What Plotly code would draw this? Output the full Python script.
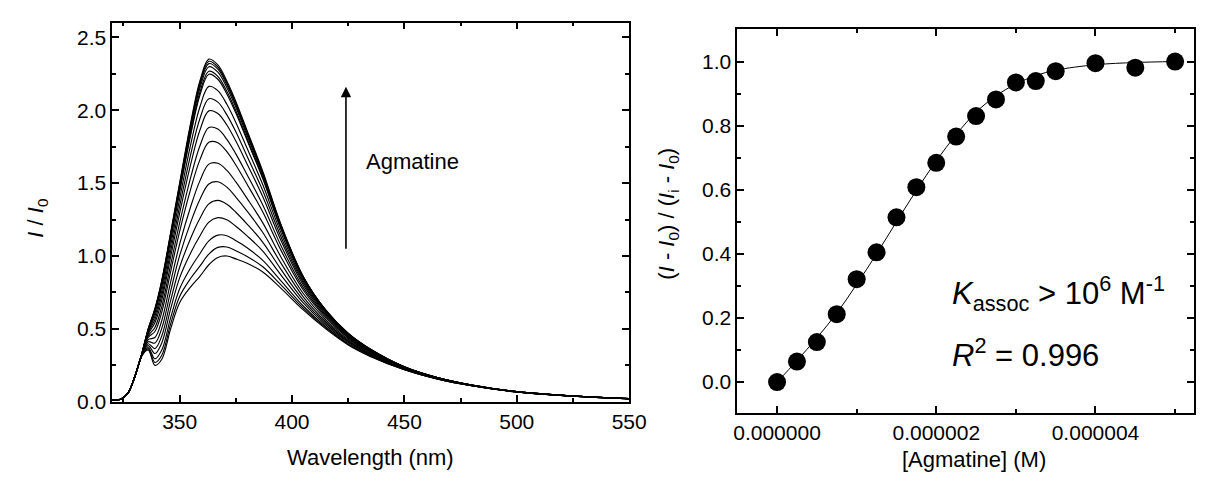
import plotly.graph_objects as go

FONT = "Liberation Sans, Arial, sans-serif"

# ---------------- Left panel: emission spectra ----------------
wavelength = [320, 324, 327, 330, 333, 336, 339, 342, 346, 350, 355, 359, 363, 367,
              371, 375, 380, 387, 395, 405, 415, 425, 435, 450, 465, 480, 500, 525, 550]

spec_01 = [0.010, 0.020, 0.060, 0.170, 0.310, 0.355, 0.250, 0.290, 0.500, 0.680, 0.790, 0.860, 0.940, 0.990,
           1.000, 0.980, 0.950, 0.890, 0.780, 0.630, 0.500, 0.390, 0.310, 0.220, 0.155, 0.110, 0.067, 0.038, 0.021]
spec_02 = [0.010, 0.020, 0.060, 0.170, 0.311, 0.363, 0.270, 0.318, 0.534, 0.723, 0.849, 0.930, 1.013, 1.059,
           1.062, 1.036, 0.997, 0.926, 0.803, 0.642, 0.507, 0.394, 0.313, 0.221, 0.156, 0.110, 0.067, 0.038, 0.021]
spec_03 = [0.010, 0.020, 0.060, 0.170, 0.311, 0.372, 0.295, 0.353, 0.577, 0.775, 0.921, 1.015, 1.104, 1.143,
           1.139, 1.105, 1.056, 0.970, 0.831, 0.657, 0.515, 0.399, 0.316, 0.222, 0.156, 0.111, 0.067, 0.038, 0.021]
spec_04 = [0.010, 0.020, 0.060, 0.170, 0.312, 0.385, 0.331, 0.402, 0.637, 0.850, 1.024, 1.137, 1.232, 1.263,
           1.248, 1.204, 1.138, 1.033, 0.871, 0.678, 0.527, 0.407, 0.320, 0.224, 0.157, 0.111, 0.068, 0.038, 0.021]
spec_05 = [0.010, 0.020, 0.060, 0.170, 0.313, 0.398, 0.365, 0.450, 0.695, 0.923, 1.125, 1.257, 1.357, 1.381,
           1.355, 1.300, 1.219, 1.094, 0.910, 0.698, 0.539, 0.414, 0.325, 0.226, 0.158, 0.111, 0.068, 0.039, 0.021]
spec_06 = [0.010, 0.020, 0.060, 0.170, 0.314, 0.412, 0.403, 0.502, 0.759, 1.002, 1.234, 1.387, 1.494, 1.509,
           1.472, 1.404, 1.308, 1.161, 0.953, 0.720, 0.551, 0.421, 0.330, 0.228, 0.159, 0.112, 0.068, 0.039, 0.021]
spec_07 = [0.010, 0.020, 0.060, 0.170, 0.315, 0.426, 0.441, 0.554, 0.823, 1.081, 1.343, 1.515, 1.630, 1.636,
           1.587, 1.508, 1.395, 1.227, 0.995, 0.743, 0.564, 0.429, 0.335, 0.230, 0.160, 0.112, 0.068, 0.039, 0.021]
spec_08 = [0.010, 0.020, 0.060, 0.170, 0.316, 0.441, 0.482, 0.612, 0.893, 1.169, 1.464, 1.659, 1.780, 1.777,
           1.715, 1.624, 1.492, 1.301, 1.042, 0.767, 0.578, 0.438, 0.340, 0.232, 0.161, 0.113, 0.069, 0.039, 0.022]
spec_09 = [0.010, 0.020, 0.060, 0.170, 0.317, 0.452, 0.510, 0.650, 0.940, 1.227, 1.544, 1.754, 1.881, 1.870,
           1.800, 1.700, 1.557, 1.350, 1.074, 0.783, 0.587, 0.443, 0.343, 0.233, 0.162, 0.113, 0.069, 0.039, 0.022]
spec_10 = [0.010, 0.020, 0.060, 0.170, 0.317, 0.464, 0.542, 0.694, 0.994, 1.293, 1.635, 1.862, 1.995, 1.977,
           1.898, 1.788, 1.631, 1.406, 1.109, 0.802, 0.597, 0.450, 0.347, 0.235, 0.162, 0.114, 0.069, 0.040, 0.022]
spec_11 = [0.010, 0.020, 0.060, 0.170, 0.318, 0.472, 0.565, 0.726, 1.033, 1.342, 1.702, 1.941, 2.078, 2.055,
           1.968, 1.852, 1.684, 1.447, 1.135, 0.816, 0.605, 0.455, 0.350, 0.236, 0.163, 0.114, 0.069, 0.040, 0.022]
spec_12 = [0.010, 0.020, 0.060, 0.170, 0.319, 0.481, 0.588, 0.758, 1.072, 1.391, 1.770, 2.022, 2.163, 2.134,
           2.040, 1.916, 1.739, 1.488, 1.162, 0.829, 0.613, 0.459, 0.353, 0.237, 0.164, 0.114, 0.070, 0.040, 0.022]
spec_13 = [0.010, 0.020, 0.060, 0.170, 0.319, 0.489, 0.611, 0.790, 1.111, 1.439, 1.836, 2.101, 2.246, 2.212,
           2.111, 1.980, 1.793, 1.529, 1.187, 0.843, 0.620, 0.464, 0.356, 0.239, 0.164, 0.115, 0.070, 0.040, 0.022]
spec_14 = [0.010, 0.020, 0.060, 0.170, 0.319, 0.491, 0.617, 0.798, 1.121, 1.452, 1.853, 2.121, 2.267, 2.232,
           2.129, 1.996, 1.806, 1.539, 1.194, 0.846, 0.622, 0.465, 0.357, 0.239, 0.164, 0.115, 0.070, 0.040, 0.022]
spec_15 = [0.010, 0.020, 0.060, 0.170, 0.320, 0.495, 0.626, 0.810, 1.136, 1.470, 1.878, 2.150, 2.298, 2.261,
           2.156, 2.020, 1.826, 1.555, 1.204, 0.852, 0.625, 0.467, 0.358, 0.239, 0.165, 0.115, 0.070, 0.040, 0.022]
spec_16 = [0.010, 0.020, 0.060, 0.170, 0.320, 0.498, 0.636, 0.824, 1.153, 1.491, 1.908, 2.185, 2.335, 2.296,
           2.187, 2.048, 1.850, 1.572, 1.215, 0.858, 0.629, 0.469, 0.360, 0.240, 0.165, 0.115, 0.070, 0.040, 0.022]
spec_17 = [0.010, 0.020, 0.060, 0.170, 0.320, 0.497, 0.631, 0.818, 1.146, 1.482, 1.895, 2.171, 2.319, 2.281,
           2.174, 2.036, 1.840, 1.565, 1.210, 0.855, 0.627, 0.468, 0.359, 0.240, 0.165, 0.115, 0.070, 0.040, 0.022]
spec_18 = [0.010, 0.020, 0.060, 0.170, 0.320, 0.500, 0.640, 0.830, 1.160, 1.500, 1.920, 2.200, 2.350, 2.310,
           2.200, 2.060, 1.860, 1.580, 1.220, 0.860, 0.630, 0.470, 0.360, 0.240, 0.165, 0.115, 0.070, 0.040, 0.022]

spectra = [spec_01, spec_02, spec_03, spec_04, spec_05, spec_06, spec_07, spec_08, spec_09,
           spec_10, spec_11, spec_12, spec_13, spec_14, spec_15, spec_16, spec_17, spec_18]

# ---------------- Right panel: binding isotherm ----------------
agmatine_conc = [0.0, 0.25e-6, 0.5e-6, 0.75e-6, 1.0e-6, 1.25e-6, 1.5e-6, 1.75e-6, 2.0e-6,
                 2.25e-6, 2.5e-6, 2.75e-6, 3.0e-6, 3.25e-6, 3.5e-6, 4.0e-6, 4.5e-6, 5.0e-6]
frac_change = [0.000, 0.064, 0.125, 0.212, 0.321, 0.405, 0.514, 0.608, 0.684,
               0.766, 0.830, 0.882, 0.935, 0.939, 0.970, 0.995, 0.981, 1.000]

fit_conc = [0.0, 0.25e-6, 0.5e-6, 0.75e-6, 1.0e-6, 1.25e-6, 1.5e-6, 1.75e-6, 2.0e-6,
            2.25e-6, 2.5e-6, 2.75e-6, 3.0e-6, 3.25e-6, 3.5e-6, 4.0e-6, 4.5e-6, 5.0e-6]
fit_frac = [0.000, 0.067, 0.138, 0.215, 0.305, 0.400, 0.500, 0.598, 0.690,
            0.772, 0.842, 0.893, 0.930, 0.956, 0.973, 0.990, 0.997, 1.000]

fig = go.Figure()

for s in spectra:
    fig.add_trace(go.Scatter(
        x=wavelength, y=s, mode="lines", xaxis="x", yaxis="y",
        line=dict(color="black", width=1.15, shape="spline", smoothing=1.0),
        showlegend=False, hoverinfo="skip"))

fig.add_trace(go.Scatter(
    x=fit_conc, y=fit_frac, mode="lines", xaxis="x2", yaxis="y2",
    line=dict(color="black", width=1, shape="spline"),
    showlegend=False, hoverinfo="skip"))

fig.add_trace(go.Scatter(
    x=agmatine_conc, y=frac_change, mode="markers", xaxis="x2", yaxis="y2",
    marker=dict(color="black", size=18, line=dict(width=0)),
    showlegend=False))

W, H = 1216, 483


def common(minor_dtick):
    return dict(
        showline=True, linecolor="black", linewidth=1.5, mirror="allticks",
        ticks="inside", ticklen=7, tickwidth=1.5, tickcolor="black",
        showgrid=False, zeroline=False,
        tickfont=dict(family=FONT, size=21, color="black"),
        minor=dict(ticks="inside", ticklen=4, tickwidth=1.5, tickcolor="black",
                   dtick=minor_dtick, showgrid=False),
    )


fig.update_layout(
    width=W, height=H,
    margin=dict(l=0, r=0, t=0, b=0),
    paper_bgcolor="white", plot_bgcolor="white",
    showlegend=False,
    xaxis=dict(domain=[103 / W, 629 / W], range=[320, 550], tick0=350, dtick=50,
               anchor="y", **common(25)),
    yaxis=dict(domain=[80 / H, 468 / H], range=[0, 2.6], tick0=0, dtick=0.5,
               tickformat=".1f", anchor="x", **common(0.25)),
    xaxis2=dict(domain=[739 / W, 1204 / W], range=[-0.5e-6, 5.24e-6], tick0=0, dtick=2e-6,
                tickformat=".6f", anchor="y2", **common(1e-6)),
    yaxis2=dict(domain=[69 / H, 461 / H], range=[-0.095, 1.1], tick0=0, dtick=0.2,
                tickformat=".1f", anchor="x2", **common(0.1)),
)

title_font = dict(family=FONT, size=22, color="black")
annotations = [
    dict(text="Wavelength (nm)", xref="paper", yref="paper", x=366 / W, y=(H - 460) / H,
         xanchor="center", yanchor="middle", showarrow=False, font=title_font),
    dict(text="<i>I</i> / <i>I</i><sub>0</sub>", xref="paper", yref="paper",
         x=27 / W, y=(H - 215) / H, textangle=-90,
         xanchor="center", yanchor="middle", showarrow=False, font=title_font),
    dict(text="[Agmatine] (M)", xref="paper", yref="paper", x=980 / W, y=(H - 462) / H,
         xanchor="center", yanchor="middle", showarrow=False, font=title_font),
    dict(text="(<i>I</i> - <i>I</i><sub>0</sub>) / (<i>I</i><sub>i</sub> - <i>I</i><sub>0</sub>)",
         xref="paper", yref="paper", x=669 / W, y=(H - 210) / H, textangle=-90,
         xanchor="center", yanchor="middle", showarrow=False, font=title_font),
    dict(text="Agmatine", xref="paper", yref="paper", x=359 / W, y=(H - 157) / H,
         xanchor="left", yanchor="middle", showarrow=False, font=title_font),
    dict(text="<i>K</i><sub>assoc</sub> &gt; 10<sup>6</sup> M<sup>-1</sup>",
         xref="paper", yref="paper", x=955 / W, y=(H - 292) / H,
         xanchor="left", yanchor="middle", showarrow=False,
         font=dict(family=FONT, size=31, color="black")),
    dict(text="<i>R</i><sup>2</sup> = 0.996",
         xref="paper", yref="paper", x=955 / W, y=(H - 353) / H,
         xanchor="left", yanchor="middle", showarrow=False,
         font=dict(family=FONT, size=31, color="black")),
    # arrow showing the direction of increasing agmatine
    dict(text="", xref="x", yref="y", x=424, y=2.16, axref="x", ayref="y", ax=424, ay=1.04,
         showarrow=True, arrowhead=2, arrowsize=1.3, arrowwidth=1.6, arrowcolor="black"),
]
fig.update_layout(annotations=annotations)

fig.write_html("out.html")
